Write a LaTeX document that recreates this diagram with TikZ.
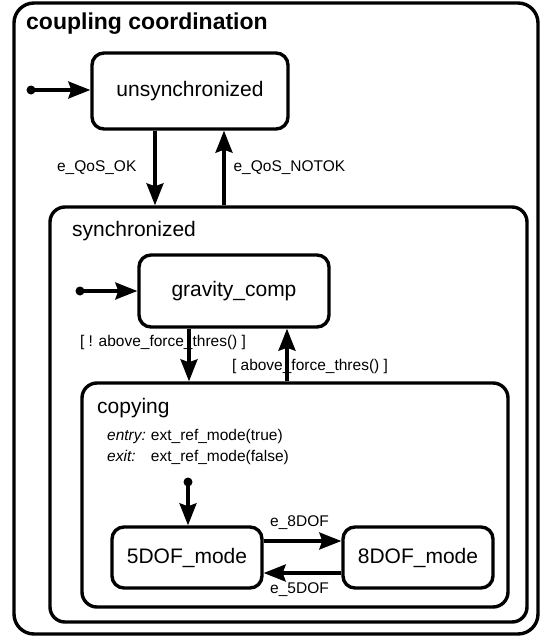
\documentclass[tikz,border=0pt]{standalone}
\usepackage{fontspec}
\setmainfont{Liberation Sans}
\usetikzlibrary{arrows.meta,calc}

\tikzset{
  frame/.style={draw, line width=3.4pt, rounded corners=#1, inner sep=0pt},
  frame/.default=20pt,
  statebox/.style={draw, line width=3.4pt, rounded corners=12pt, inner sep=0pt,
                   font=\fontsize{21}{24}\selectfont},
  tr/.style={line width=3.2pt, -{Stealth[length=22pt, width=17pt, inset=3pt]}},
  initdot/.style={circle, fill=black, inner sep=0pt, minimum size=9pt},
  lbl/.style={font=\fontsize{15.5}{18}\selectfont, inner sep=0pt},
  ttl/.style={font=\fontsize{21}{24}\selectfont, inner sep=0pt, anchor=base west},
}

\begin{document}
\begin{tikzpicture}[x=1pt, y=-1pt]
  \useasboundingbox (0,0) rectangle (542,638);

  % composite states
  \node[frame=20pt, minimum width=524pt, minimum height=631pt] (coupling) at (276,318.5) {};
  \node[ttl, font=\fontsize{23}{26}\selectfont\bfseries] (couplingT) at (26,29) {coupling coordination};

  \node[frame=15pt, minimum width=477pt, minimum height=415pt] (sync) at (288.5,414.5) {};
  \node[ttl] (syncT) at (72,236) {synchronized};

  \node[frame=15pt, minimum width=426pt, minimum height=224pt] (copying) at (295,495) {};
  \node[ttl] (copyingT) at (97,413) {copying};
  \node[lbl, anchor=base west] (entry) at (107,440) {%
    \begin{tabular}[t]{@{}l@{\hspace{5pt}}l@{}}
      \textit{entry:} & ext\_ref\_mode(true)\\[3pt]
      \textit{exit:}  & ext\_ref\_mode(false)
    \end{tabular}};

  % simple states
  \node[statebox, minimum width=196pt, minimum height=76pt] (unsync) at (190,91) {unsynchronized};
  \node[statebox, minimum width=190pt, minimum height=72pt] (gravity) at (234,291) {gravity\_comp};
  \node[statebox, minimum width=150pt, minimum height=61pt] (five) at (187,557.5) {5DOF\_mode};
  \node[statebox, minimum width=150pt, minimum height=61pt] (eight) at (418,557.5) {8DOF\_mode};

  % initial pseudostates
  \node[initdot] (i1) at (31,90) {};
  \node[initdot] (i2) at (80,291) {};
  \node[initdot] (i3) at (188,482) {};

  \draw[tr] (i1.center) -- (unsync.west |- i1);
  \draw[tr] (i2.center) -- (gravity.west |- i2);
  \draw[tr] (i3.center) -- (five.north -| i3);

  % x positions of the vertical transitions
  \coordinate (xa) at (155,0);
  \coordinate (xb) at (224,0);
  \coordinate (xc) at (189,0);
  \coordinate (xd) at (287,0);
  % y positions of the horizontal transitions
  \coordinate (ya) at (0,541);
  \coordinate (yb) at (0,573);

  \draw[tr] (unsync.south -| xa) -- node[lbl, pos=0.5, anchor=east, xshift=-17pt] {e\_QoS\_OK} (sync.north -| xa);
  \draw[tr] (sync.north -| xb) -- node[lbl, pos=0.5, anchor=west, xshift=8pt] {e\_QoS\_NOTOK} (unsync.south -| xb);

  \draw[tr] (gravity.south -| xc) -- node[lbl, pos=0.27, xshift=-26pt] {[ ! above\_force\_thres() ]} (copying.north -| xc);
  \draw[tr] (copying.north -| xd) -- node[lbl, pos=0.29, xshift=23pt] {[ above\_force\_thres() ]} (gravity.south -| xd);

  \draw[tr] (five.east |- ya) -- node[lbl, midway, yshift=18pt, xshift=-3pt] {e\_8DOF} (eight.west |- ya);
  \draw[tr] (eight.west |- yb) -- node[lbl, midway, yshift=-17pt, xshift=-3pt] {e\_5DOF} (five.east |- yb);
\end{tikzpicture}
\end{document}
